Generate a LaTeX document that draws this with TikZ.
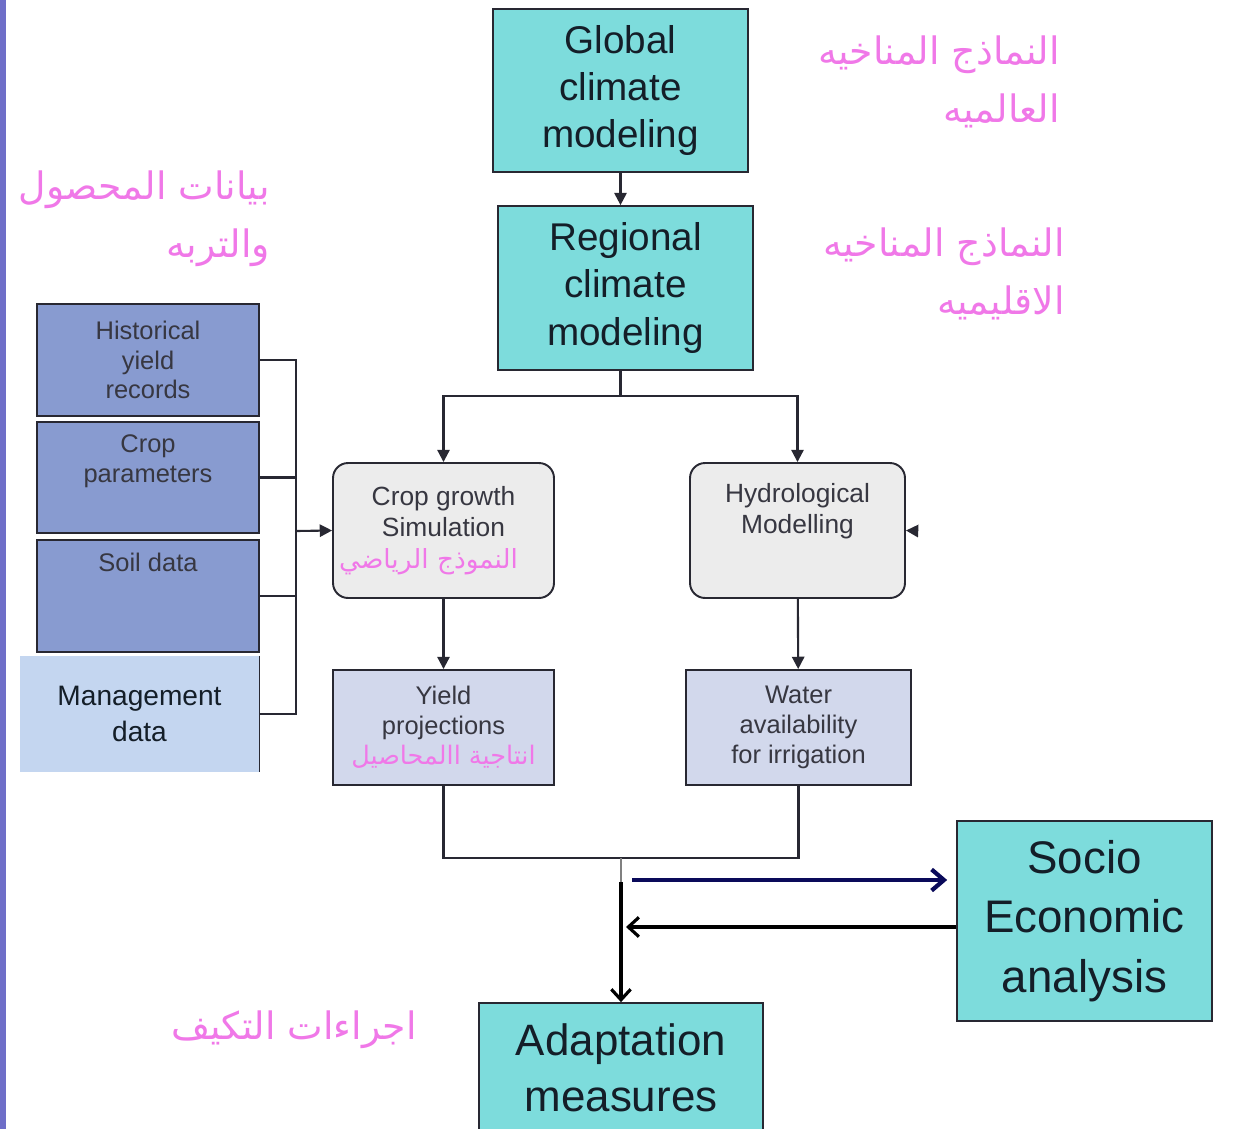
\documentclass[tikz,border=0pt]{standalone}
\usepackage{fontspec}
\setmainfont{Liberation Sans}
\newfontfamily\arabicfont[Script=Arabic]{DejaVu Sans}
\TeXXeTstate=1
\usetikzlibrary{arrows.meta}
\definecolor{boxcyan}{RGB}{125,220,220}
\definecolor{boxgray}{RGB}{236,236,236}
\definecolor{boxlav}{RGB}{210,216,236}
\definecolor{boxblue}{RGB}{136,155,208}
\definecolor{boxpale}{RGB}{196,214,240}
\definecolor{arpink}{RGB}{240,120,232}
\definecolor{navyline}{RGB}{10,10,90}
\definecolor{edgeline}{RGB}{40,40,50}
\definecolor{textdark}{RGB}{20,30,40}
\definecolor{textgray}{RGB}{55,55,65}
\definecolor{stripblue}{RGB}{110,110,200}
\begin{document}
\begin{tikzpicture}[x=0.02cm,y=-0.02cm,
  bigbox/.style={draw=edgeline,line width=1pt,fill=boxcyan,align=center,inner sep=0pt,text=textdark},
  simbox/.style={draw=edgeline,line width=1.1pt,fill=boxgray,rounded corners=0.3cm,align=center,inner sep=0pt,text=textgray,font=\fontsize{15}{18}\selectfont},
  outbox/.style={draw=edgeline,line width=1.1pt,fill=boxlav,align=center,inner sep=0pt,text=textgray,font=\fontsize{14.5}{17}\selectfont},
  databox/.style={draw=edgeline,line width=1.1pt,fill=boxblue,align=center,inner sep=0pt,text=textgray,font=\fontsize{14.5}{17}\selectfont,minimum width=4.44cm},
  smalltxt/.style={align=center,text=textgray,font=\fontsize{14.5}{17}\selectfont},
  artext/.style={align=right,text=arpink,font=\arabicfont\fontsize{21.5}{33}\selectfont},
  flow/.style={line width=1.2pt,draw=edgeline,-{Triangle[length=7pt,width=7pt]}},
  link/.style={line width=1.2pt,draw=edgeline},
  navyarrow/.style={line width=2.4pt,draw=navyline,-{Straight Barb[length=7pt,width=12pt]}},
  backarrow/.style={line width=1.8pt,draw=black,-{Straight Barb[length=6pt,width=11pt]}}]
\useasboundingbox (0,0) rectangle (1234,1129);
\clip (0,0) rectangle (1234,1129);
\fill[white] (0,0) rectangle (1234,1129);
\fill[stripblue] (0,0) rectangle (6,1129);

% climate models
\node[bigbox,minimum width=5.1cm,minimum height=3.26cm,font=\fontsize{22}{27}\selectfont] (glob) at (620.5,90.5) {Global\\climate\\modeling};
\node[bigbox,minimum width=5.1cm,minimum height=3.28cm,font=\fontsize{22}{27}\selectfont] (reg) at (625.5,288) {Regional\\climate\\modeling};
\draw[flow] (glob.south) -- (glob.south |- reg.north);

% simulation boxes
\node[simbox,minimum width=4.42cm,minimum height=2.7cm] (crop) at (443.5,530.5) {Crop growth\\Simulation\\{\arabicfont\fontsize{15}{18}\selectfont\color{arpink}\beginR النموذج الرياضي\endR\hspace{0.6cm}}};
\node[simbox,minimum width=4.3cm,minimum height=2.7cm,label={[smalltxt,font=\fontsize{15}{18}\selectfont,anchor=north,yshift=-0.3cm]north:Hydrological\\Modelling}] (hydro) at (797.5,530.5) {};
\coordinate (split) at (620.5,396);
\draw[link] (glob.south |- reg.south) -- (split);
\draw[flow] (split) -| (crop.north);
\draw[flow] (split) -| (hydro.north);
\coordinate (hx) at (918,531);
\draw[flow] (hx) -- (hydro.east);

% outputs
\node[outbox,minimum width=4.42cm,minimum height=2.3cm] (yield) at (443.5,727.5) {Yield\\projections\\{\arabicfont\fontsize{14.5}{17}\selectfont\color{arpink}\beginR انتاجية االمحاصيل\endR}};
\node[outbox,minimum width=4.5cm,minimum height=2.3cm] (water) at (798.5,727.5) {Water\\availability\\for irrigation};
\draw[flow] (crop) -- (yield);
\draw[flow] (hydro) -- (water);

% input data
\node[databox,minimum height=2.24cm] (hist) at (148,360) {Historical\\yield\\records};
\node[databox,minimum height=2.22cm,label={[smalltxt,anchor=north,yshift=-0.15cm]north:Crop\\parameters}] (cpar) at (148,477.5) {};
\node[databox,minimum height=2.24cm,label={[smalltxt,anchor=north,yshift=-0.15cm]north:Soil data}] (soil) at (148,596) {};
\node[fill=boxpale,minimum width=4.78cm,minimum height=2.32cm,align=center,inner sep=0pt,text=textdark,font=\fontsize{16}{20}\selectfont] (mgmt) at (139.5,714) {Management\\data};
\draw[link,line width=0.8pt] (mgmt.north east) -- (mgmt.south east);
\coordinate (bus) at (296,531);
\draw[link] (hist.east) -- (hist.east -| bus) -- (mgmt.east -| bus) -- (mgmt.east);
\draw[link] (cpar.east) -- (cpar.east -| bus);
\draw[link] (soil.east) -- (soil.east -| bus);
\draw[flow] (bus) -- (crop.west);

% socio economic and adaptation
\node[bigbox,minimum width=5.1cm,minimum height=4cm,font=\fontsize{26}{34}\selectfont] (socio) at (1084.5,921) {Socio\\Economic\\analysis};
\node[bigbox,minimum width=5.68cm,minimum height=2.6cm,font=\fontsize{25}{32}\selectfont] (adapt) at (621,1068) {Adaptation\\measures};
\coordinate (jn) at (621,858);
\coordinate (jm) at (621,882);
\draw[link] (yield.south) |- (jn) -| (water.south);
\draw[link,line width=0.8pt,draw=gray] (jn) -- (jm);
\draw[backarrow] (jm) -- (adapt.north);
\coordinate (nv) at (632,880);
\draw[navyarrow,shorten >=0.18cm] (nv) -- (nv -| socio.west);
\coordinate (rt) at (626,927);
\draw[backarrow] (rt -| socio.west) -- (rt);

% arabic notes
\node[artext,anchor=east] (arglob) at (1066,82) {\beginR النماذج المناخيه\endR\\\beginR العالميه\endR};
\node[artext,anchor=east] (arreg) at (1071,274) {\beginR النماذج المناخيه\endR\\\beginR الاقليميه\endR};
\node[artext,anchor=east] (ardata) at (276,219) {\beginR بيانات المحصول\endR\\\beginR والتربه\endR};
\node[artext,anchor=east] (aradapt) at (423,1030) {\beginR اجراءات التكيف\endR};
\end{tikzpicture}
\end{document}
